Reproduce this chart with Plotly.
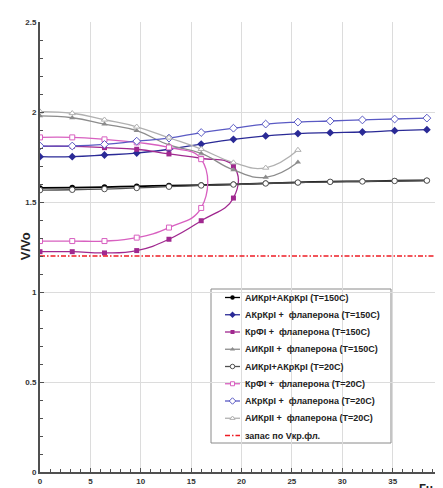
import plotly.graph_objects as go

# ---- data ----
freq = [0, 3.2, 6.4, 9.6, 12.8, 16.0, 19.2, 22.4, 25.6, 28.8, 32.0, 35.2, 38.4]

black150_y = [1.578, 1.580, 1.583, 1.587, 1.591, 1.594, 1.598, 1.604, 1.609, 1.613, 1.615, 1.618, 1.620]
black20_y = [1.566, 1.568, 1.572, 1.578, 1.585, 1.592, 1.597, 1.603, 1.608, 1.612, 1.614, 1.617, 1.619]

blue150_y = [1.752, 1.752, 1.761, 1.772, 1.793, 1.822, 1.848, 1.867, 1.880, 1.885, 1.889, 1.896, 1.902]
blue20_y = [1.811, 1.811, 1.820, 1.838, 1.855, 1.886, 1.910, 1.933, 1.944, 1.950, 1.956, 1.961, 1.966]

mag150_x = [0, 3.2, 6.4, 9.6, 12.8, 16.0, 19.2, 19.2, 16.0, 12.8, 9.6, 6.4, 3.2, 0]
mag150_y = [1.809, 1.809, 1.802, 1.793, 1.767, 1.743, 1.700, 1.522, 1.396, 1.293, 1.230, 1.217, 1.224, 1.224]

pink20_x = [0, 3.2, 6.4, 9.6, 12.8, 16.0, 16.0, 12.8, 9.6, 6.4, 3.2, 0]
pink20_y = [1.859, 1.859, 1.848, 1.831, 1.803, 1.738, 1.467, 1.358, 1.302, 1.283, 1.283, 1.283]

gray_x = [0, 3.2, 6.4, 9.6, 12.8, 16.0, 19.2, 22.4, 25.6]
gray150_y = [1.978, 1.968, 1.933, 1.896, 1.817, 1.770, 1.678, 1.637, 1.721]
gray20_y = [2.002, 1.993, 1.957, 1.918, 1.857, 1.794, 1.719, 1.690, 1.789]

reserve_x = [0, 40]
reserve_y = [1.2, 1.2]

names = [
    "АИКрI+АКрКрI (T=150C)",
    "АКрКрI +  флаперона (T=150C)",
    "КрФI +  флаперона (T=150C)",
    "АИКрII +  флаперона (T=150C)",
    "АИКрI+АКрКрI (T=20C)",
    "КрФI +  флаперона (T=20C)",
    "АКрКрI +  флаперона (T=20C)",
    "АИКрII +  флаперона (T=20C)",
    "запас по Vкр.фл.",
]
x_ticks = [0, 5, 10, 15, 20, 25, 30, 35, 40]
y_ticks = [0, 0.5, 1, 1.5, 2, 2.5]

FONT = "Liberation Sans, Arial, sans-serif"
RED_DASH = "5px,2px,1.5px,2px"

# ---- styles per series (same order as names) ----
styles = [
    dict(color="#000000", symbol="circle", ms=5.5, lw=1.8, open=False),
    dict(color="#2a2a96", symbol="diamond", ms=6, lw=1.3, open=False),
    dict(color="#a0288f", symbol="square", ms=5, lw=1.3, open=False),
    dict(color="#8c8c8c", symbol="triangle-up", ms=5.5, lw=1.3, open=False),
    dict(color="#505050", symbol="circle", ms=5.5, lw=1.3, open=True),
    dict(color="#d860c0", symbol="square", ms=5, lw=1.3, open=True),
    dict(color="#5a5ac4", symbol="diamond", ms=6, lw=1.3, open=True),
    dict(color="#b0b0b0", symbol="triangle-up", ms=5.5, lw=1.3, open=True),
]
series = [
    (freq, black150_y), (freq, blue150_y), (mag150_x, mag150_y), (gray_x, gray150_y),
    (freq, black20_y), (pink20_x, pink20_y), (freq, blue20_y), (gray_x, gray20_y),
]

fig = go.Figure()


def marker_for(st, size=None):
    return dict(symbol=st["symbol"], size=size or st["ms"],
                color="white" if st["open"] else st["color"],
                line=dict(color=st["color"], width=1 if st["open"] else 0))


for (sx, sy), name, st in zip(series, names, styles):
    fig.add_trace(go.Scatter(
        x=sx, y=sy, name=name, mode="lines+markers", showlegend=False,
        line=dict(color=st["color"], width=st["lw"], shape="spline", smoothing=1.3),
        marker=marker_for(st),
    ))

fig.add_trace(go.Scatter(
    x=reserve_x, y=reserve_y, name=names[8], mode="lines", showlegend=False,
    line=dict(color="#ee1c24", width=1.5, dash=RED_DASH),
))

# ---- hand-made legend, drawn on an overlay axis in window-pixel units ----
PLOT_L, PLOT_R, PLOT_T, PLOT_B = 40, 443, 22, 472
LEG_L, LEG_R, LEG_T, LEG_B = 211, 391, 289, 443
ROW0, ROWSTEP = 297.5, 17.25
SAMPLE_X0, SAMPLE_X1, TEXT_X = 225, 240, 243


def px_to_paper_x(px):
    return (px - PLOT_L) / (PLOT_R - PLOT_L)


def px_to_paper_y(py):
    return (PLOT_B - py) / (PLOT_B - PLOT_T)


for i, name in enumerate(names):
    ry = ROW0 + i * ROWSTEP
    if i < 8:
        st = styles[i]
        lcolor, dash = st["color"], "solid"
    else:
        st = None
        lcolor, dash = "#ee1c24", RED_DASH
    fig.add_trace(go.Scatter(
        x=[SAMPLE_X0, SAMPLE_X1], y=[ry, ry], xaxis="x2", yaxis="y2",
        mode="lines", showlegend=False, hoverinfo="skip",
        line=dict(color=lcolor, width=1.3, dash=dash),
    ))
    if st is not None:
        fig.add_trace(go.Scatter(
            x=[(SAMPLE_X0 + SAMPLE_X1) / 2], y=[ry], xaxis="x2", yaxis="y2",
            mode="markers", showlegend=False, hoverinfo="skip",
            marker=marker_for(st, size=st["ms"] - 1),
        ))

annotations = [
    dict(text=name, xref="paper", yref="paper",
         x=px_to_paper_x(TEXT_X), y=px_to_paper_y(ROW0 + i * ROWSTEP),
         xanchor="left", yanchor="middle", showarrow=False,
         font=dict(family=FONT, size=9, color="#222222", weight="bold"))
    for i, name in enumerate(names)
]
annotations += [
    dict(text="V/Vo", xref="paper", yref="paper", x=-0.037, y=0.502,
         xanchor="center", yanchor="middle", textangle=-90, showarrow=False,
         font=dict(family=FONT, size=13, color="#222222", weight="bold")),
    dict(text="Гц", xref="paper", yref="paper", x=0.96, y=-0.018,
         xanchor="center", yanchor="top", showarrow=False,
         font=dict(family=FONT, size=12, color="#222222", weight="bold")),
]

axis_common = dict(
    showgrid=True, gridcolor="#dcdcdc", gridwidth=1,
    showline=True, linecolor="#505050", linewidth=2,
    ticks="inside", ticklen=4, tickcolor="#505050", tickwidth=1,
    tickfont=dict(family=FONT, size=8, color="#333333", weight="bold"),
    zeroline=False,
)

# The page body has an 8px margin, so the figure is shifted by 8px; margins compensate.
fig.update_layout(
    width=443, height=488,
    margin=dict(l=32, r=8, t=14, b=24, autoexpand=False),
    paper_bgcolor="white", plot_bgcolor="white",
    showlegend=False,
    xaxis=dict(
        range=[0, 40], tickvals=x_ticks, ticktext=[str(v) for v in x_ticks],
        ticklabeloverflow="allow",
        minor=dict(dtick=1, ticks="inside", ticklen=3, tickcolor="#505050", showgrid=False),
        **axis_common,
    ),
    yaxis=dict(
        range=[0, 2.5], tickvals=y_ticks, ticktext=[("%g" % v) for v in y_ticks],
        minor=dict(dtick=0.1, ticks="inside", ticklen=3, tickcolor="#505050", showgrid=False),
        **axis_common,
    ),
    xaxis2=dict(overlaying="x", range=[PLOT_L, PLOT_R], visible=False, fixedrange=True),
    yaxis2=dict(overlaying="y", range=[PLOT_B, PLOT_T], visible=False, fixedrange=True),
    shapes=[dict(type="rect", xref="paper", yref="paper",
                 x0=px_to_paper_x(LEG_L), x1=px_to_paper_x(LEG_R),
                 y0=px_to_paper_y(LEG_B), y1=px_to_paper_y(LEG_T),
                 fillcolor="white", line=dict(color="#8a8a8a", width=1), layer="between")],
    annotations=annotations,
)

fig.write_html("out.html")
